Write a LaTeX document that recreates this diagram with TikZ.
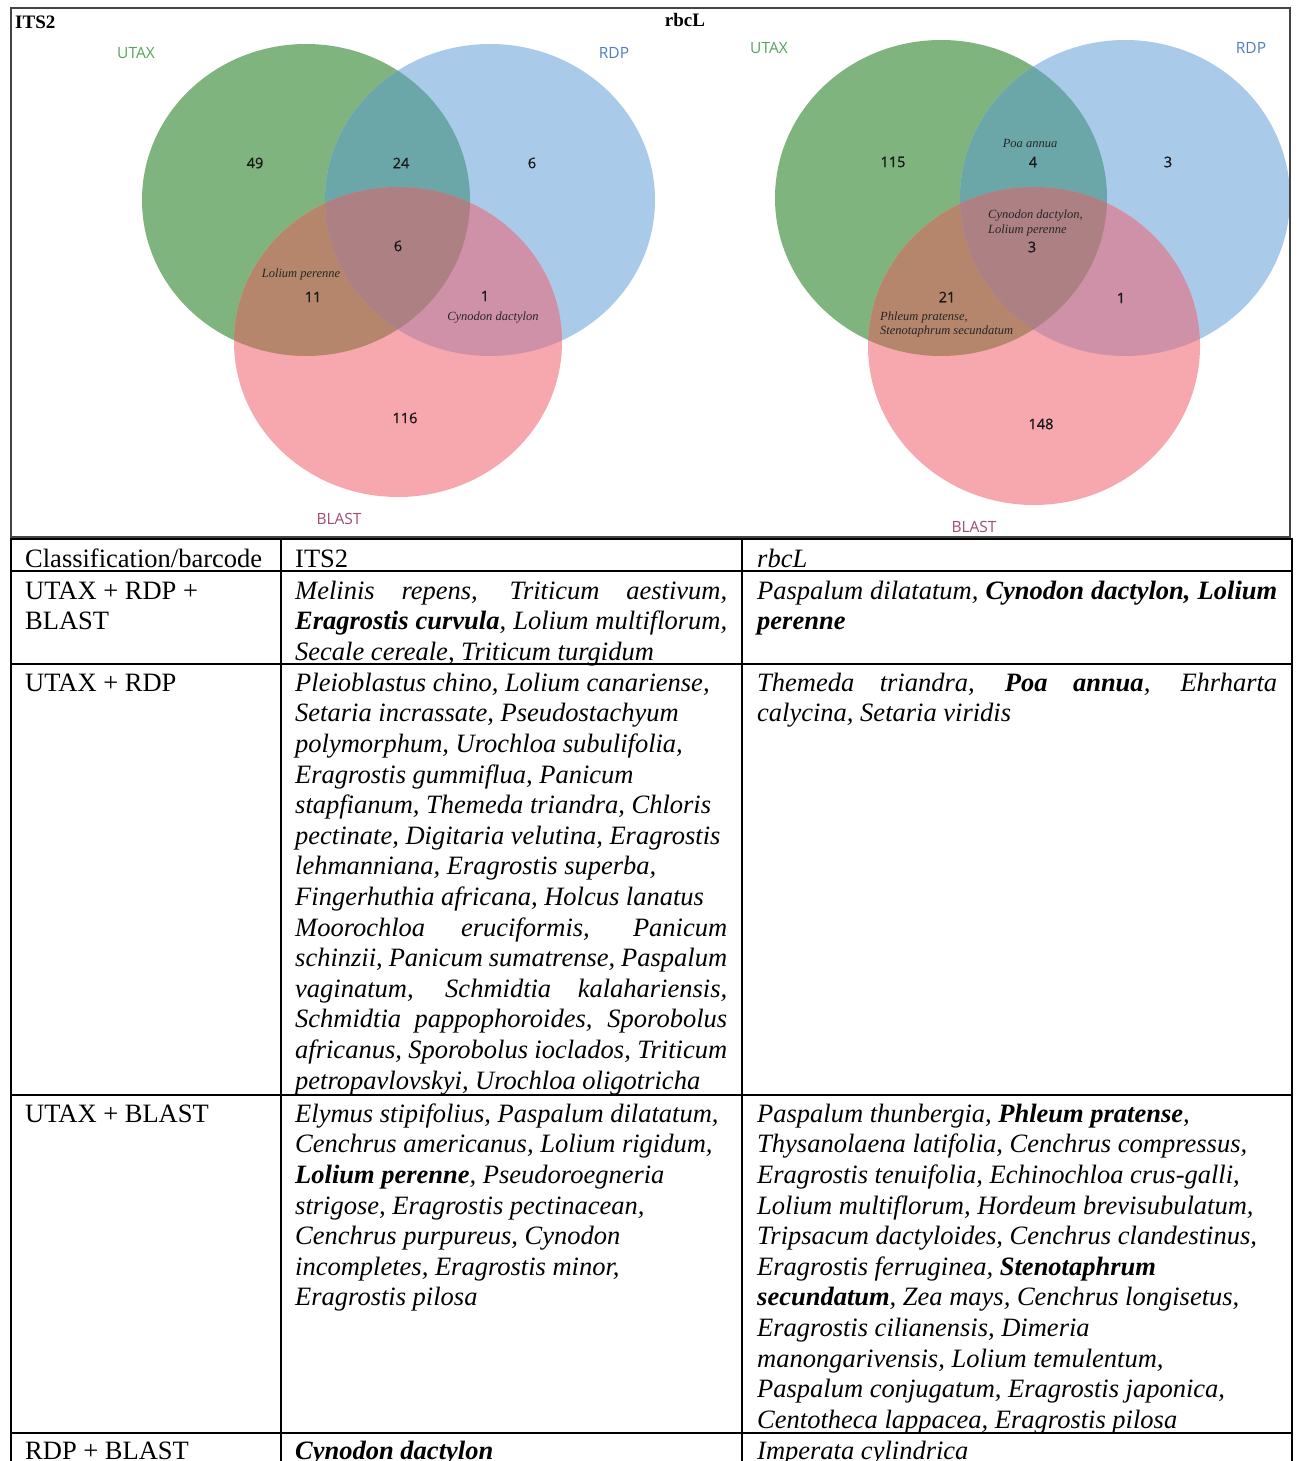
\documentclass[tikz,border=0pt]{standalone}
\usepackage{fontspec}
\setmainfont{Liberation Serif}
\newfontfamily\vsans{Open Sans}
\newfontfamily\vsansnum{Open Sans}[FakeBold=0.9]
\definecolor{vG}{HTML}{80B47E}
\definecolor{vB}{HTML}{A9CBE9}
\definecolor{vR}{HTML}{F6A8AE}
\definecolor{vGB}{HTML}{6BA6A8}
\definecolor{vGR}{HTML}{B5866B}
\definecolor{vBR}{HTML}{CF91A7}
\definecolor{vGBR}{HTML}{AD8084}
\definecolor{lG}{HTML}{5BA35B}
\definecolor{lB}{HTML}{4F7FC3}
\definecolor{lR}{HTML}{A04D75}
\definecolor{frameC}{HTML}{444444}
\newcommand\jA[1]{\makebox[432pt][s]{#1}}
\newcommand\jB[1]{\makebox[520pt][s]{#1}}
\tikzset{
  cell/.style={anchor=north west, inner sep=0pt, align=left, font=\fontsize{26.5}{30.6}\selectfont},
  icell/.style={cell, font=\fontsize{26.5}{30.6}\selectfont\itshape},
  num/.style={inner sep=0pt, font=\vsansnum\fontsize{14.5}{17}\selectfont, text=black!90},
  setlab/.style={inner sep=0pt, font=\vsans\fontsize{15.5}{18}\selectfont},
  sp/.style={inner sep=0pt, font=\fontsize{12.5}{14}\selectfont\itshape, text=black!85},
  ttl/.style={inner sep=0pt, font=\fontsize{19}{22}\selectfont\bfseries},
  tline/.style={line width=2pt, black},
}
\begin{document}
\begin{tikzpicture}[x=1pt,y=-1pt]
\useasboundingbox (0,0) rectangle (1298,1461);
\clip (0,0) rectangle (1298,1461);
\fill[white] (0,0) rectangle (1298,1461);

% ---------- ITS2 Venn ----------
\fill[vG] (306,200) ellipse [x radius=164pt, y radius=156pt];
\fill[vB] (490,200) ellipse [x radius=165pt, y radius=156pt];
\fill[vR] (398,342) ellipse [x radius=164pt, y radius=155pt];
\begin{scope}
  \clip (306,200) ellipse [x radius=164pt, y radius=156pt];
  \fill[vGB] (490,200) ellipse [x radius=165pt, y radius=156pt];
  \fill[vGR] (398,342) ellipse [x radius=164pt, y radius=155pt];
\end{scope}
\begin{scope}
  \clip (490,200) ellipse [x radius=165pt, y radius=156pt];
  \fill[vBR] (398,342) ellipse [x radius=164pt, y radius=155pt];
  \clip (306,200) ellipse [x radius=164pt, y radius=156pt];
  \fill[vGBR] (398,342) ellipse [x radius=164pt, y radius=155pt];
\end{scope}

% ---------- rbcL Venn ----------
\fill[vG] (941,198) ellipse [x radius=166pt, y radius=158pt];
\fill[vB] (1125,198) ellipse [x radius=165pt, y radius=158pt];
\fill[vR] (1034,346) ellipse [x radius=166pt, y radius=159pt];
\begin{scope}
  \clip (941,198) ellipse [x radius=166pt, y radius=158pt];
  \fill[vGB] (1125,198) ellipse [x radius=165pt, y radius=158pt];
  \fill[vGR] (1034,346) ellipse [x radius=166pt, y radius=159pt];
\end{scope}
\begin{scope}
  \clip (1125,198) ellipse [x radius=165pt, y radius=158pt];
  \fill[vBR] (1034,346) ellipse [x radius=166pt, y radius=159pt];
  \clip (941,198) ellipse [x radius=166pt, y radius=158pt];
  \fill[vGBR] (1034,346) ellipse [x radius=166pt, y radius=159pt];
\end{scope}

% frame
\draw[frameC, line width=1.3pt] (11,8) rectangle (1290,537);

% ITS2 labels
\node[ttl, anchor=west] (t1) at (15,22) {ITS2};
\node[setlab, text=lG] (u1) at (136,53) {UTAX};
\node[setlab, text=lB] (r1) at (614,53) {RDP};
\node[setlab, text=lR] (b1) at (339,519) {BLAST};
\node[num] (n1a) at (255,163) {49};
\node[num] (n1b) at (401,163) {24};
\node[num] (n1c) at (532,163) {6};
\node[num] (n1d) at (398,246) {6};
\node[num] (n1e) at (313,297) {11};
\node[num] (n1f) at (485,296) {1};
\node[num] (n1g) at (405,418) {116};
\node[sp] (s1a) at (301,274) {Lolium perenne};
\node[sp] (s1b) at (493,318) {Cynodon dactylon};

% rbcL labels
\node[ttl] (t2) at (685,20) {rbcL};
\node[setlab, text=lG] (u2) at (769,48) {UTAX};
\node[setlab, text=lB] (r2) at (1251,48) {RDP};
\node[setlab, text=lR] (b2) at (974,527) {BLAST};
\node[num] (n2a) at (893,162) {115};
\node[num] (n2b) at (1033,162) {4};
\node[num] (n2c) at (1168,162) {3};
\node[num] (n2d) at (1032,247) {3};
\node[num] (n2e) at (947,297) {21};
\node[num] (n2f) at (1121,298) {1};
\node[num] (n2g) at (1041,424) {148};
\node[sp] (s2a) at (1030,143) {Poa annua};
\node[sp, anchor=west] (s2b) at (988,216) {Cynodon dactylon,};
\node[sp, anchor=west] (s2c) at (988,230) {Lolium perenne};
\node[sp, anchor=west] (s2d) at (880,317) {Phleum pratense,};
\node[sp, anchor=west] (s2e) at (880,331) {Stenotaphrum secundatum};

% ---------- table ----------
\foreach \yy in {539,571,664,1095,1433}
  \draw[tline] (10,\yy) -- (1293,\yy);
\foreach \xx in {11,281,742,1292}
  \draw[tline] (\xx,538) -- (\xx,1465);

% header row
\node[cell] (h1) at (25,545.6) {\strut Classification/barcode};
\node[cell] (h2) at (295,545.6) {\strut ITS2};
\node[icell] (h3) at (757,545.6) {\strut rbcL};

% row 2
\node[cell] (a1) at (25,577.6) {\strut UTAX + RDP +\\BLAST};
\node[icell] (a2) at (295,577.6) {\strut\jA{Melinis repens, Triticum aestivum,}\\
\jA{\textbf{Eragrostis curvula}, Lolium multiflorum,}\\
Secale cereale, Triticum turgidum};
\node[icell] (a3) at (757,577.6) {\strut\jB{Paspalum dilatatum, \textbf{Cynodon dactylon, Lolium}}\\
\textbf{perenne}};

% row 3
\node[cell] (c1) at (25,669.6) {\strut UTAX + RDP};
\node[icell] (c2) at (295,669.6) {\strut Pleioblastus chino, Lolium canariense,\\
Setaria incrassate, Pseudostachyum\\
polymorphum, Urochloa subulifolia,\\
Eragrostis gummiflua, Panicum\\
stapfianum, Themeda triandra, Chloris\\
pectinate, Digitaria velutina, Eragrostis\\
lehmanniana, Eragrostis superba,\\
Fingerhuthia africana, Holcus lanatus\\
\jA{Moorochloa eruciformis, Panicum}\\
\jA{schinzii, Panicum sumatrense, Paspalum}\\
\jA{vaginatum, Schmidtia kalahariensis,}\\
\jA{Schmidtia pappophoroides, Sporobolus}\\
\jA{africanus, Sporobolus ioclados, Triticum}\\
petropavlovskyi, Urochloa oligotricha};
\node[icell] (c3) at (757,669.6) {\strut\jB{Themeda triandra, \textbf{Poa annua}, Ehrharta}\\
calycina, Setaria viridis};

% row 4
\node[cell] (d1) at (25,1100.6) {\strut UTAX + BLAST};
\node[icell] (d2) at (295,1100.6) {\strut Elymus stipifolius, Paspalum dilatatum,\\
Cenchrus americanus, Lolium rigidum,\\
\textbf{Lolium perenne}, Pseudoroegneria\\
strigose, Eragrostis pectinacean,\\
Cenchrus purpureus, Cynodon\\
incompletes, Eragrostis minor,\\
Eragrostis pilosa};
\node[icell] (d3) at (757,1100.6) {\strut Paspalum thunbergia, \textbf{Phleum pratense},\\
Thysanolaena latifolia, Cenchrus compressus,\\
Eragrostis tenuifolia, Echinochloa crus-galli,\\
Lolium multiflorum, Hordeum brevisubulatum,\\
Tripsacum dactyloides, Cenchrus clandestinus,\\
Eragrostis ferruginea, \textbf{Stenotaphrum}\\
\textbf{secundatum}, Zea mays, Cenchrus longisetus,\\
Eragrostis cilianensis, Dimeria\\
manongarivensis, Lolium temulentum,\\
Paspalum conjugatum, Eragrostis japonica,\\
Centotheca lappacea, Eragrostis pilosa};

% row 5
\node[cell] (e1) at (25,1437.6) {\strut RDP + BLAST};
\node[icell] (e2) at (295,1437.6) {\strut\textbf{Cynodon dactylon}};
\node[icell] (e3) at (757,1437.6) {\strut Imperata cylindrica};
\end{tikzpicture}
\end{document}
